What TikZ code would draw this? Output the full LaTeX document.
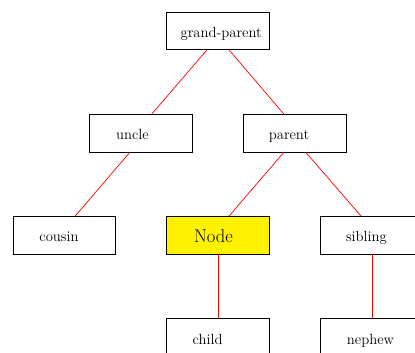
\documentclass[tikz,border=0pt]{standalone}
\begin{document}
\begin{tikzpicture}[x=1pt,y=-1pt,
  font=\fontsize{14.7}{17}\selectfont,
  box/.style={draw=black, line width=0.8pt, minimum width=102.6pt, minimum height=37.5pt, inner sep=0pt},
  tag/.style={inner sep=0pt, text height=10pt, text depth=3pt, yshift=-3pt},
  link/.style={draw=red, line width=0.7pt}]
\useasboundingbox (0,0) rectangle (415,353);
\clip (0,0) rectangle (415,353);
\node[box, label={[tag,xshift=3.2pt]center:grand-parent}] (gp) at (218,30.7) {};
\node[box, label={[tag,xshift=-8.3pt]center:uncle}] (uncle) at (140.8,133.2) {};
\node[box, label={[tag,xshift=-5.8pt]center:parent}] (parent) at (294.8,133.2) {};
\node[box, label={[tag,xshift=-5.2pt]center:cousin}] (cousin) at (64.2,235.2) {};
\node[box, fill=yellow, label={[tag,xshift=-4.6pt,yshift=-0.5pt,font=\fontsize{18.5}{22}\selectfont]center:Node}] (node) at (218,235.3) {};
\node[box, label={[tag,xshift=-5.5pt]center:sibling}] (sibling) at (372,235.2) {};
\node[box, label={[tag,xshift=-10.5pt]center:child}] (child) at (218,337.5) {};
\node[box, label={[tag,xshift=-1.5pt]center:nephew}] (nephew) at (372,337.5) {};
\draw[link] ([xshift=-11pt]gp.south) -- ([xshift=11pt]uncle.north);
\draw[link] ([xshift=11pt]gp.south) -- ([xshift=-11pt]parent.north);
\draw[link] ([xshift=-11pt]uncle.south) -- ([xshift=11pt]cousin.north);
\draw[link] ([xshift=-11pt]parent.south) -- ([xshift=11pt]node.north);
\draw[link] ([xshift=11pt]parent.south) -- ([xshift=-11pt]sibling.north);
\draw[link] (node.south) -- (child.north);
\draw[link] (sibling.south) -- (nephew.north);
\end{tikzpicture}
\end{document}
